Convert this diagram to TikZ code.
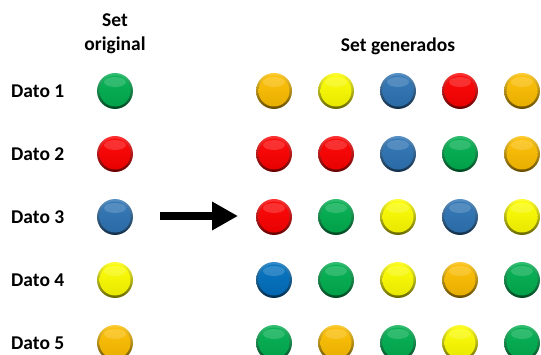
\documentclass[tikz,border=0pt]{standalone}
\usepackage{fontspec}
\setmainfont{Carlito}
\usetikzlibrary{arrows.meta}
\definecolor{cgreen}{HTML}{00B050}
\definecolor{cred}{HTML}{FF0000}
\definecolor{cblue}{HTML}{2E75B6}
\definecolor{cbblue}{HTML}{0070C0}
\definecolor{cyellow}{HTML}{FFFF00}
\definecolor{corange}{HTML}{FFC000}
\tikzset{
  ball/.style={circle, minimum size=36pt, inner sep=0pt,
    top color=#1!80!white, bottom color=#1!40!black,
    path picture={
      \shade[top color=#1!95!white, bottom color=#1!90!black]
        (path picture bounding box.center) circle (15.5pt);
      \fill[white, opacity=0.16]
        ([yshift=9pt]path picture bounding box.center) ellipse (11pt and 5pt);
    }},
  lbl/.style={font=\fontsize{19.5}{24}\selectfont\bfseries, inner sep=0pt, align=center},
  bigarrow/.style={line width=8pt, -{Triangle[length=26pt,width=27pt]}}
}
\begin{document}
\begin{tikzpicture}[x=1pt,y=-1pt]
\useasboundingbox (0,0) rectangle (541,355);
% headers
\node[lbl] (h1) at (115,34) {Set\\original};
\node[lbl] (h2) at (398,46) {Set generados};
% row labels
\foreach \i/\y in {1/91,2/154,3/217,4/280,5/343}{
  \node[lbl, anchor=west] (d\i) at (11,\y) {Dato \i};
}
% original set
\node[ball=cgreen]  (o1) at (115,91) {};
\node[ball=cred]    (o2) at (115,154) {};
\node[ball=cblue]   (o3) at (115,217) {};
\node[ball=cyellow] (o4) at (115,280) {};
\node[ball=corange] (o5) at (115,343) {};
% generated sets
\foreach \c [count=\j] in {corange,cyellow,cblue,cred,corange}{
  \node[ball=\c] (g1\j) at ({274+62*(\j-1)},91) {};}
\foreach \c [count=\j] in {cred,cred,cblue,cgreen,corange}{
  \node[ball=\c] (g2\j) at ({274+62*(\j-1)},154) {};}
\foreach \c [count=\j] in {cred,cgreen,cyellow,cblue,cyellow}{
  \node[ball=\c] (g3\j) at ({274+62*(\j-1)},217) {};}
\foreach \c [count=\j] in {cbblue,cgreen,cyellow,corange,cgreen}{
  \node[ball=\c] (g4\j) at ({274+62*(\j-1)},280) {};}
\foreach \c [count=\j] in {cgreen,corange,cgreen,cyellow,cgreen}{
  \node[ball=\c] (g5\j) at ({274+62*(\j-1)},343) {};}
% arrow
\coordinate (a1) at (160,216);
\coordinate (a2) at (238,216);
\draw[bigarrow] (a1) -- (a2);
\end{tikzpicture}
\end{document}
